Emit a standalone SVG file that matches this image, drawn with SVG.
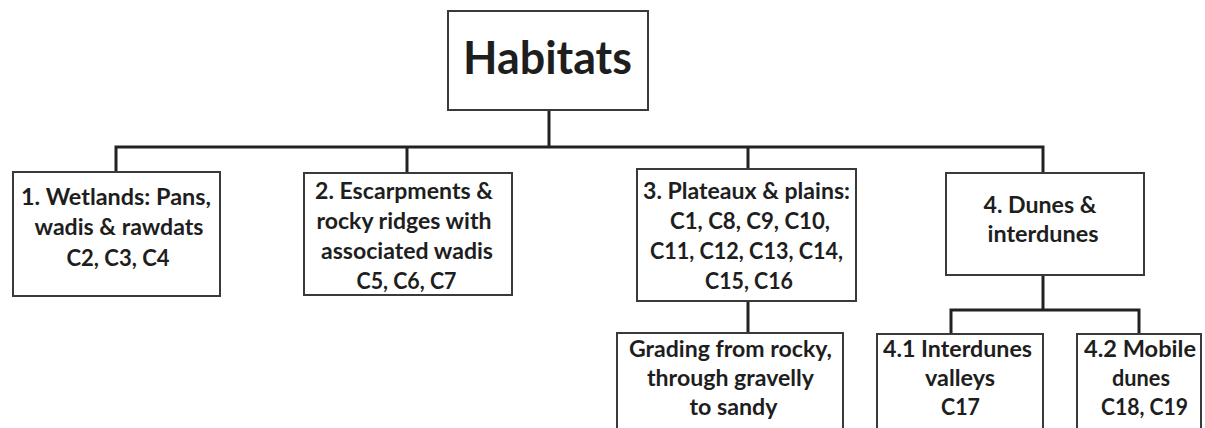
<svg xmlns="http://www.w3.org/2000/svg" width="1205" height="428" viewBox="0 0 1205 428">
<style>
.box{fill:#fff;stroke:#3a3a3a;stroke-width:2}
.conn{fill:none;stroke:#222;stroke-width:3}
.t{font-family:Lato,"Liberation Sans",sans-serif;font-weight:bold;font-size:22px;fill:#1e1e1e;text-anchor:middle}
.title{font-size:45px}
</style>
<rect width="1205" height="428" fill="#fff"/>
<g id="connectors">
<path class="conn" d="M549 110V147M116 172V147H1043V173M407 147V173M748 147V169"/>
<path class="conn" d="M748 301V333"/>
<path class="conn" d="M1043 275V310M951 334V310H1139V334"/>
</g>
<g id="habitats">
<rect class="box" x="448" y="11" width="200" height="99"/>
<text class="t title" x="547.5" y="74" textLength="169" lengthAdjust="spacingAndGlyphs">Habitats</text>
</g>
<g id="wetlands">
<rect class="box" x="13" y="172" width="207" height="124"/>
<text class="t" x="116" y="205" textLength="190" lengthAdjust="spacingAndGlyphs">1. Wetlands: Pans,</text>
<text class="t" x="119" y="235" textLength="169" lengthAdjust="spacingAndGlyphs">wadis &amp; rawdats</text>
<text class="t" x="118" y="266" textLength="103" lengthAdjust="spacingAndGlyphs">C2, C3, C4</text>
</g>
<g id="escarpments">
<rect class="box" x="304" y="173" width="208" height="122"/>
<text class="t" x="404" y="199" textLength="178" lengthAdjust="spacingAndGlyphs">2. Escarpments &amp;</text>
<text class="t" x="404" y="229" textLength="175" lengthAdjust="spacingAndGlyphs">rocky ridges with</text>
<text class="t" x="407" y="259" textLength="172" lengthAdjust="spacingAndGlyphs">associated wadis</text>
<text class="t" x="406.5" y="289" textLength="100" lengthAdjust="spacingAndGlyphs">C5, C6, C7</text>
</g>
<g id="plateaux">
<rect class="box" x="637" y="169" width="219" height="132"/>
<text class="t" x="746.5" y="199" textLength="207" lengthAdjust="spacingAndGlyphs">3. Plateaux &amp; plains:</text>
<text class="t" x="750" y="229" textLength="160" lengthAdjust="spacingAndGlyphs">C1, C8, C9, C10,</text>
<text class="t" x="746.5" y="259" textLength="193" lengthAdjust="spacingAndGlyphs">C11, C12, C13, C14,</text>
<text class="t" x="749" y="289" textLength="88" lengthAdjust="spacingAndGlyphs">C15, C16</text>
</g>
<g id="dunes">
<rect class="box" x="946" y="173" width="198" height="102"/>
<text class="t" x="1040" y="213" textLength="113" lengthAdjust="spacingAndGlyphs">4. Dunes &amp;</text>
<text class="t" x="1043" y="242" textLength="111" lengthAdjust="spacingAndGlyphs">interdunes</text>
</g>
<g id="grading">
<rect class="box" x="617" y="333" width="226" height="110"/>
<text class="t" x="730.5" y="357" textLength="203" lengthAdjust="spacingAndGlyphs">Grading from rocky,</text>
<text class="t" x="730.5" y="386" textLength="167" lengthAdjust="spacingAndGlyphs">through gravelly</text>
<text class="t" x="733.5" y="415" textLength="88" lengthAdjust="spacingAndGlyphs">to sandy</text>
</g>
<g id="interdunes-valleys">
<rect class="box" x="877" y="334" width="166" height="110"/>
<text class="t" x="957.5" y="357" textLength="149" lengthAdjust="spacingAndGlyphs">4.1 Interdunes</text>
<text class="t" x="960" y="386" textLength="70" lengthAdjust="spacingAndGlyphs">valleys</text>
<text class="t" x="960.5" y="415" textLength="39" lengthAdjust="spacingAndGlyphs">C17</text>
</g>
<g id="mobile-dunes">
<rect class="box" x="1077" y="334" width="124" height="110"/>
<text class="t" x="1140" y="357" textLength="112" lengthAdjust="spacingAndGlyphs">4.2 Mobile</text>
<text class="t" x="1141" y="386" textLength="58" lengthAdjust="spacingAndGlyphs">dunes</text>
<text class="t" x="1144.5" y="415" textLength="87" lengthAdjust="spacingAndGlyphs">C18, C19</text>
</g>
</svg>
